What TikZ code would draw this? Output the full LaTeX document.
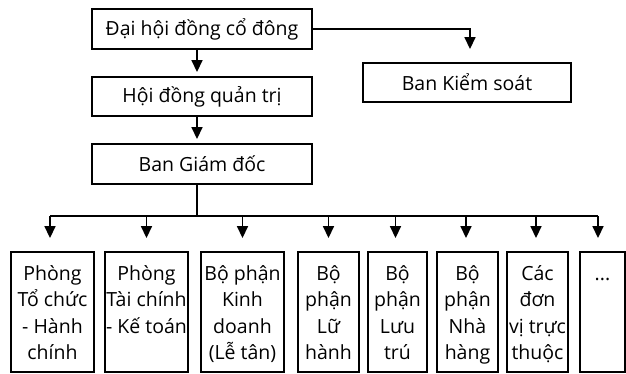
\documentclass[tikz,border=0pt]{standalone}
\usepackage{fontspec}
\setmainfont{Open Sans}
\usetikzlibrary{arrows.meta}
\begin{document}
\begin{tikzpicture}[x=1pt,y=-1pt,
  box/.style={draw, line width=1.9pt, inner sep=0pt, font=\fontsize{19.5}{26.5}\selectfont},
  txt/.style={inner sep=0pt, align=center, anchor=north, yshift=-10.5pt, font=\fontsize{19.5}{26.5}\selectfont},
  conn/.style={line width=1.7pt},
  arr/.style={conn, -{Triangle[width=11pt,length=12pt]}}]
\useasboundingbox (0,0) rectangle (626,374);
% top boxes
\node[box, minimum width=220pt, minimum height=40pt] (A) at (202,29) {Đại hội đồng cổ đông};
\node[box, minimum width=220pt, minimum height=39pt] (H) at (202,96.5) {Hội đồng quản trị};
\node[box, minimum width=220pt, minimum height=40pt] (G) at (202,164) {Ban Giám đốc};
\node[box, minimum width=208pt, minimum height=39pt] (K) at (467,82.5) {Ban Kiểm soát};
% bottom boxes
\foreach \n/\cx/\w in {1/52.5/83, 2/146.5/83, 3/242.5/83, 4/328.5/61, 5/397.5/59, 6/467.5/61, 7/537.5/61, 8/602.5/45}{
  \node[box, minimum width=\w pt, minimum height=120pt] (b\n) at (\cx,312) {};
}
\node[txt] (t1) at (b1.north) {\strut Phòng\\Tổ chức\\- Hành\\chính};
\node[txt] (t2) at (b2.north) {\strut Phòng\\Tài chính\\- Kế toán};
\node[txt] (t3) at (b3.north) {\strut Bộ phận\\Kinh\\doanh\\(Lễ tân)};
\node[txt] (t4) at (b4.north) {\strut Bộ\\phận\\Lữ\\hành};
\node[txt] (t5) at (b5.north) {\strut Bộ\\phận\\Lưu\\trú};
\node[txt] (t6) at (b6.north) {\strut Bộ\\phận\\Nhà\\hàng};
\node[txt] (t7) at (b7.north) {\strut Các\\đơn\\vị trực\\thuộc};
\node[txt] (t8) at (b8.north) {\strut ...};
% connectors
\draw[arr, shorten >=4pt] ([xshift=-5pt]A.south) -- ([xshift=-5pt]H.north);
\draw[arr, shorten >=4pt] ([xshift=-5pt]H.south) -- ([xshift=-5pt]G.north);
\draw[arr, shorten >=13pt] (A.east) -| ([xshift=3pt]K.north);
\coordinate (bus) at (197,216);
\draw[conn] ([xshift=-5pt]G.south) -- (bus);
\draw[conn] ([xshift=-2.5pt]b1.north |- bus) -- ([xshift=-4.5pt]b8.north |- bus);
\foreach \n/\s in {1/-2.5, 2/0, 3/0, 4/0, 5/-2, 6/-1.5, 7/-1.5, 8/-4.5}{
  \draw[arr, shorten >=13pt] ([xshift=\s pt]b\n.north |- bus) -- ([xshift=\s pt]b\n.north);
}
\end{tikzpicture}
\end{document}
